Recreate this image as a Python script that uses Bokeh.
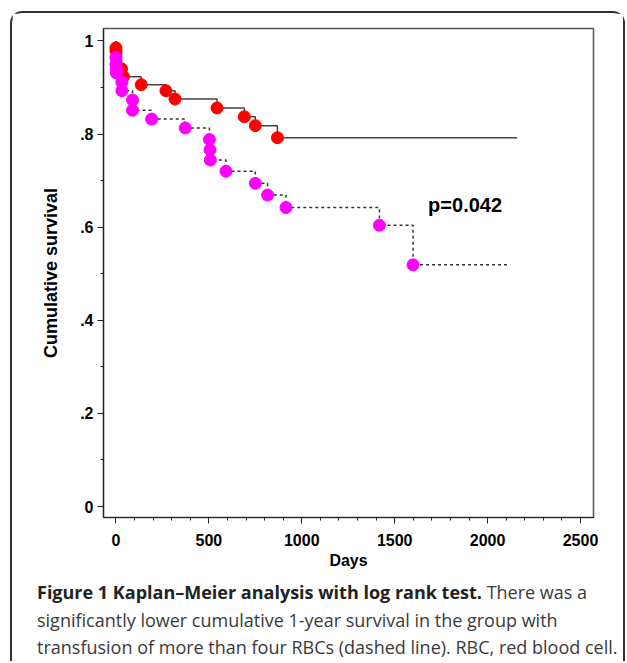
from bokeh.plotting import figure
from bokeh.models import FixedTicker, Label, Range1d, Div
from bokeh.layouts import column
from bokeh.embed import file_html
from bokeh.resources import INLINE

# ---- data ----
red_days = [0, 0, 30, 40, 136, 269, 318, 544, 691, 750, 869]
red_surv = [0.985, 0.978, 0.94, 0.923, 0.906, 0.893, 0.875, 0.856, 0.837, 0.818, 0.792]
red_end = 2159

mag_days = [0, 0, 2, 2, 32, 32, 89, 89, 192, 373, 503, 506, 508, 592, 750, 816, 915, 1418, 1599]
mag_surv = [0.964, 0.950, 0.939, 0.931, 0.911, 0.893, 0.873, 0.851, 0.832, 0.813,
            0.788, 0.766, 0.744, 0.720, 0.694, 0.669, 0.642, 0.604, 0.519]
mag_end = 2113

x_ticks = [0, 500, 1000, 1500, 2000, 2500]
x_minor = [d for d in range(0, 2600, 100) if d % 500 != 0]
y_ticks = [0, 0.2, 0.4, 0.6, 0.8, 1]
y_minor = [0.1, 0.3, 0.5, 0.7, 0.9]
y_labels = {0: "0", 0.2: ".2", 0.4: ".4", 0.6: ".6", 0.8: ".8", 1: "1"}

p_text = "p=0.042"
caption_bold = "Figure 1 Kaplan\u2013Meier analysis with log rank test."
caption_lines = ["There was a",
                 "significantly lower cumulative 1-year survival in the group with",
                 "transfusion of more than four RBCs (dashed line). RBC, red blood cell."]

AX_FONT = "Liberation Sans"

p = figure(width=611, height=566, output_backend="svg", toolbar_location=None,
           x_range=Range1d(-67, 2570), y_range=Range1d(-0.0236, 1.0266),
           min_border_left=91, min_border_right=30, min_border_top=15,
           min_border_bottom=62, margin=0)
p.grid.visible = False
p.outline_line_color = "#555555"
p.outline_line_width = 1.5
p.background_fill_color = "white"
p.border_fill_color = "white"


def step_xy(days, surv, end):
    xs = [0] + list(days) + [end]
    ys = [1.0] + list(surv) + [surv[-1]]
    return xs, ys


rx, ry = step_xy(red_days, red_surv, red_end)
mx, my = step_xy(mag_days, mag_surv, mag_end)
p.step(rx, ry, mode="after", line_color="#444444", line_width=1.5)
p.step(mx, my, mode="after", line_color="#333333", line_width=1.5, line_dash="3 3")

p.scatter(red_days, red_surv, size=12, fill_color="#ff0000", line_color="#ff0000")
p.scatter(mag_days, mag_surv, size=12, fill_color="#ff00ff", line_color="#ff00ff")

xa = p.xaxis[0]
xa.ticker = FixedTicker(ticks=x_ticks, minor_ticks=x_minor)
xa.axis_label = "Days"
ya = p.yaxis[0]
ya.ticker = FixedTicker(ticks=y_ticks, minor_ticks=y_minor)
ya.major_label_overrides = y_labels
ya.axis_label = "Cumulative survival"
for ax in (xa, ya):
    ax.axis_line_color = "#222222"
    ax.axis_line_width = 1.2
    ax.major_tick_line_color = "#222222"
    ax.minor_tick_line_color = "#222222"
    ax.major_tick_in = 0
    ax.major_tick_out = 6
    ax.minor_tick_in = 0
    ax.minor_tick_out = 3
    ax.major_label_text_font = AX_FONT
    ax.major_label_text_font_style = "bold"
    ax.major_label_text_font_size = "16px"
    ax.major_label_text_color = "black"
    ax.axis_label_text_font = AX_FONT
    ax.axis_label_text_font_style = "bold"
    ax.axis_label_text_color = "black"
xa.major_label_standoff = 10
ya.major_label_standoff = 4
xa.axis_label_text_font_size = "16px"
xa.axis_label_standoff = 3
ya.axis_label_text_font_size = "18px"
ya.axis_label_standoff = 16

p.add_layout(Label(x=1680, y=0.648, text=p_text, text_font=AX_FONT,
                   text_font_style="bold", text_font_size="20px",
                   text_color="black", text_baseline="alphabetic"))

cap_html = ('<span style="font-weight:700;color:#222">%s</span> %s<br>%s<br>%s'
            % (caption_bold, caption_lines[0], caption_lines[1], caption_lines[2]))
cap = Div(text=cap_html, width=611, height=82, margin=0,
          styles={"font-family": "'Open Sans'", "font-size": "18px",
                  "line-height": "27.5px", "color": "#3a3a3a",
                  "white-space": "nowrap", "padding-left": "25px",
                  "box-sizing": "border-box", "overflow": "hidden"})

layout = column(p, cap, margin=(11, 0, 0, 10), spacing=0,
                styles={"border": "2px solid #333333", "border-bottom": "none",
                        "border-radius": "12px 12px 0 0",
                        "box-sizing": "content-box", "background": "white"})

open("out.html", "w").write(file_html(layout, INLINE))
